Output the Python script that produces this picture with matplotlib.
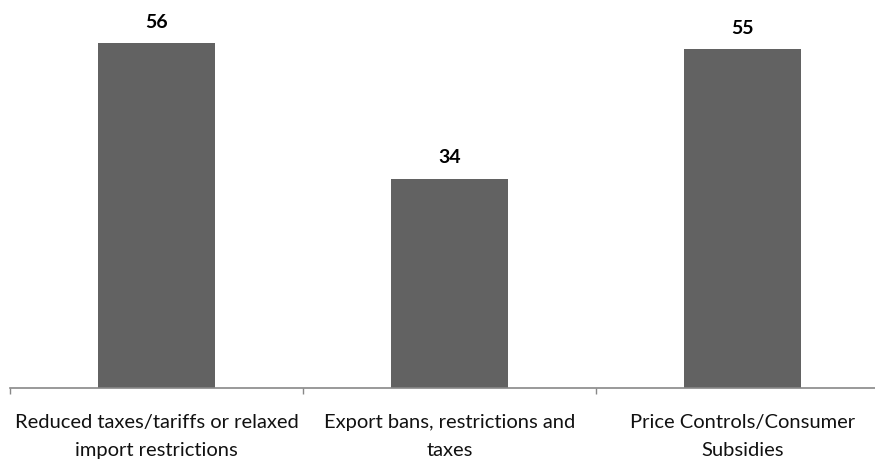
import matplotlib
matplotlib.use("Agg")
import matplotlib.pyplot as plt

categories = ["Reduced taxes/tariffs or relaxed\nimport restrictions",
              "Export bans, restrictions and\ntaxes",
              "Price Controls/Consumer\nSubsidies"]
values = [56, 34, 55]

plt.rcParams['font.family'] = ['Lato', 'DejaVu Sans']

W, H = 875, 463
fig = plt.figure(figsize=(W/100, H/100), dpi=100)
left, right = 10, 889
bottom_px = 388
ymax = 60
scale = 6.16
top_px = bottom_px - ymax*scale
ax = fig.add_axes([left/W, (H-bottom_px)/H, (right-left)/W, (bottom_px-top_px)/H])

x = list(range(len(values)))
ax.bar(x, values, width=0.4, color='#626262', zorder=2)
for xi, v in zip(x, values):
    ax.text(xi, v + 2.0, str(v), ha='center', va='bottom', fontsize=14, fontweight='bold', color='#000000')

ax.set_xlim(-0.5, 2.5)
ax.set_ylim(0, ymax)
for s in ['top', 'right', 'left']:
    ax.spines[s].set_visible(False)
ax.spines['bottom'].set_color('#888888')
ax.spines['bottom'].set_linewidth(1.2)
ax.set_yticks([])
ax.set_xticks([-0.5, 0.5, 1.5, 2.5], minor=False)
ax.set_xticklabels([])
ax.tick_params(axis='x', length=4, color='#888888', width=1)
ax.set_xticks(x, minor=True)
ax.set_xticklabels(categories, minor=True, fontsize=14.5, color='#111111', linespacing=1.75)
ax.tick_params(axis='x', which='minor', length=0, pad=19)

fig.savefig('out.png', dpi=100)
